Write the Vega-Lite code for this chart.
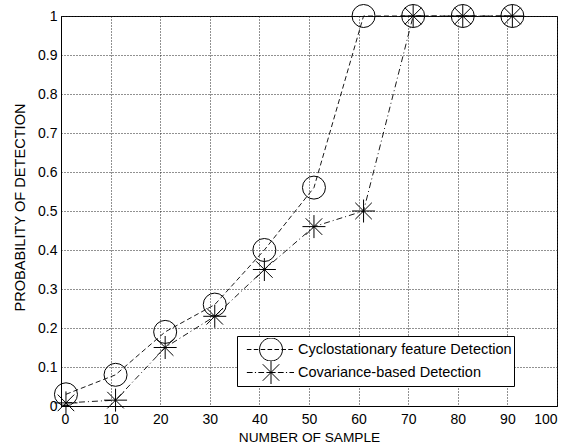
{
  "$schema": "https://vega.github.io/schema/vega-lite/v6.json",
  "width": 496,
  "height": 390,
  "autosize": {"type": "none"},
  "padding": {"left": 61, "top": 16, "right": 11, "bottom": 42},
  "background": "white",
  "config": {
    "font": "Liberation Sans",
    "view": {"stroke": "black", "strokeWidth": 1},
    "axis": {
      "domainColor": "black",
      "gridColor": "#222",
      "gridDash": [1, 2],
      "gridWidth": 1,
      "gridOpacity": 1,
      "ticks": false,
      "labelColor": "black",
      "titleColor": "black",
      "labelFont": "Liberation Sans",
      "titleFont": "Liberation Sans",
      "labelFontSize": 14,
      "titleFontSize": 13.7,
      "titleFontWeight": "normal"
    }
  },
  "data": {
    "values": [
      {"n": 1, "p": 0.03, "series": "Cyclostationary feature Detection"},
      {"n": 11, "p": 0.08, "series": "Cyclostationary feature Detection"},
      {"n": 21, "p": 0.19, "series": "Cyclostationary feature Detection"},
      {"n": 31, "p": 0.26, "series": "Cyclostationary feature Detection"},
      {"n": 41, "p": 0.40, "series": "Cyclostationary feature Detection"},
      {"n": 51, "p": 0.56, "series": "Cyclostationary feature Detection"},
      {"n": 61, "p": 1.0, "series": "Cyclostationary feature Detection"},
      {"n": 71, "p": 1.0, "series": "Cyclostationary feature Detection"},
      {"n": 81, "p": 1.0, "series": "Cyclostationary feature Detection"},
      {"n": 91, "p": 1.0, "series": "Cyclostationary feature Detection"},
      {"n": 1, "p": 0.008, "series": "Covariance-based Detection"},
      {"n": 11, "p": 0.015, "series": "Covariance-based Detection"},
      {"n": 21, "p": 0.15, "series": "Covariance-based Detection"},
      {"n": 31, "p": 0.23, "series": "Covariance-based Detection"},
      {"n": 41, "p": 0.35, "series": "Covariance-based Detection"},
      {"n": 51, "p": 0.46, "series": "Covariance-based Detection"},
      {"n": 61, "p": 0.50, "series": "Covariance-based Detection"},
      {"n": 71, "p": 1.0, "series": "Covariance-based Detection"},
      {"n": 81, "p": 1.0, "series": "Covariance-based Detection"},
      {"n": 91, "p": 1.0, "series": "Covariance-based Detection"}
    ]
  },
  "encoding": {
    "x": {
      "field": "n", "type": "quantitative",
      "scale": {"domain": [0, 100], "nice": false},
      "axis": {"title": "NUMBER OF SAMPLE", "values": [0,10,20,30,40,50,60,70,80,90,100], "labelPadding": 6, "titlePadding": 4, "grid": true}
    },
    "y": {
      "field": "p", "type": "quantitative",
      "scale": {"domain": [0, 1], "nice": false},
      "axis": {"title": "PROBABILITY OF DETECTION", "format": "~g", "values": [0,0.1,0.2,0.3,0.4,0.5,0.6,0.7,0.8,0.9,1], "labelPadding": 4, "titlePadding": 10, "titleFontSize": 14.6, "titleY": 191, "grid": true}
    }
  },
  "layer": [
    {
      "transform": [{"filter": "datum.series === 'Cyclostationary feature Detection'"}],
      "mark": {"type": "line", "color": "black", "strokeWidth": 0.9, "strokeDash": [5, 3]},
      "encoding": {}
    },
    {
      "transform": [{"filter": "datum.series === 'Covariance-based Detection'"}],
      "mark": {"type": "line", "color": "black", "strokeWidth": 0.9, "strokeDash": [6, 3, 1, 3]},
      "encoding": {}
    },
    {
      "transform": [{"filter": "datum.series === 'Cyclostationary feature Detection'"}],
      "mark": {"type": "point", "shape": "circle", "filled": false, "color": "black", "strokeWidth": 1, "size": 529, "opacity": 1},
      "encoding": {}
    },
    {
      "transform": [{"filter": "datum.series === 'Covariance-based Detection'"}],
      "mark": {"type": "point", "shape": "M0,-1L0,1M-1,0L1,0M-0.72,-0.72L0.72,0.72M-0.72,0.72L0.72,-0.72", "filled": false, "color": "black", "strokeWidth": 1, "size": 529, "opacity": 1},
      "encoding": {}
    },
    {
      "transform": [{"filter": "datum.n > 1000"}],
      "mark": {"type": "point", "filled": false, "color": "black", "strokeWidth": 1, "size": 529, "opacity": 1},
      "encoding": {
        "shape": {
          "field": "series", "type": "nominal",
          "scale": {"domain": ["Cyclostationary feature Detection", "Covariance-based Detection"], "range": [
            "M-2.1,0L-1.7,0M-1.5,0L-1.1,0M-0.9,0L-0.5,0M-0.3,0L0.1,0M0.3,0L0.7,0M0.9,0L1.3,0M1.5,0L1.9,0M1,0A1,1 0 1,1 -1,0A1,1 0 1,1 1,0",
            "M-2.1,0L-1.6,0M-1.4,0L-1.3,0M-1.1,0L-0.6,0M-0.4,0L0.4,0M0.6,0L1.1,0M1.3,0L1.4,0M1.6,0L2,0M0,-1L0,1M-0.72,-0.72L0.72,0.72M-0.72,0.72L0.72,-0.72"
          ]},
          "legend": {
            "title": null,
            "orient": "none",
            "legendX": 176,
            "legendY": 320,
            "direction": "vertical",
            "strokeColor": "black",
            "fillColor": "white",
            "padding": 2,
            "rowPadding": 0,
            "clipHeight": 23,
            "symbolSize": 529,
            "symbolOffset": 20,
            "symbolStrokeColor": "black",
            "symbolFillColor": "transparent",
            "symbolStrokeWidth": 1,
            "symbolOpacity": 1,
            "labelFont": "Liberation Sans",
            "labelFontSize": 14.5,
            "labelColor": "black",
            "labelOffset": 15,
            "labelLimit": 400
          }
        }
      }
    }
  ]
}
